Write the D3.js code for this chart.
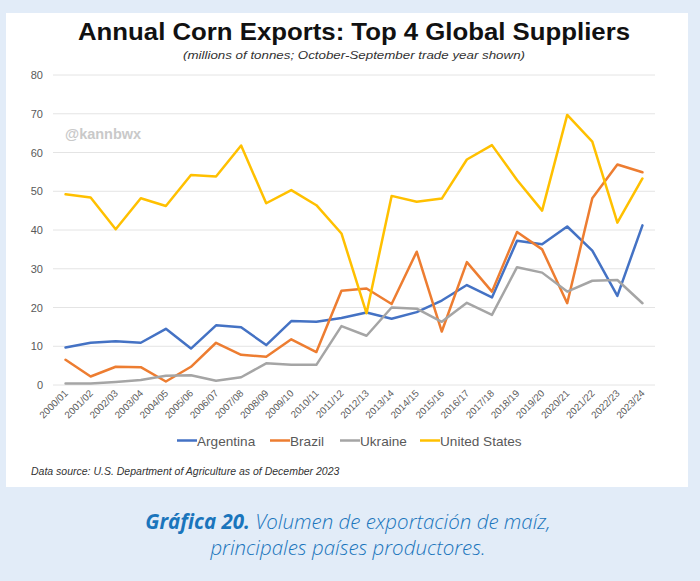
<!DOCTYPE html>
<html>
<head>
<meta charset="utf-8">
<script src="https://cdn.jsdelivr.net/npm/d3@7"></script>
<style>
  html, body { margin: 0; padding: 0; background: #e2ecf8; }
  svg { display: block; }
</style>
</head>
<body>
<svg id="chart" width="700" height="581"></svg>
<script>
const years = ["2000/01","2001/02","2002/03","2003/04","2004/05","2005/06","2006/07","2007/08","2008/09","2009/10","2010/11","2011/12","2012/13","2013/14","2014/15","2015/16","2016/17","2017/18","2018/19","2019/20","2020/21","2021/22","2022/23","2023/24"];
const argentina = [9.7,10.9,11.3,10.9,14.5,9.4,15.4,14.9,10.3,16.5,16.3,17.3,18.7,17.1,18.8,21.8,25.8,22.6,37.2,36.3,40.9,34.7,23.0,41.2];
const brazil    = [6.5,2.2,4.7,4.6,0.9,4.7,10.9,7.8,7.3,11.8,8.5,24.3,24.9,20.9,34.4,13.8,31.7,24.1,39.5,35.0,21.1,48.2,56.9,54.9];
const ukraine   = [0.4,0.4,0.8,1.3,2.4,2.5,1.1,2.0,5.6,5.2,5.2,15.2,12.7,20.0,19.7,16.3,21.2,18.1,30.4,29.0,24.1,26.9,27.1,21.1];
const unitedStates = [49.2,48.4,40.2,48.2,46.2,54.2,53.8,61.8,46.9,50.3,46.4,39.1,18.5,48.8,47.3,48.1,58.2,61.9,52.9,45.0,69.7,62.8,41.9,53.3];
const yTicks = [0,10,20,30,40,50,60,70,80];
const seriesNames = ["Argentina","Brazil","Ukraine","United States"];
const seriesColors = ["#4472c4","#ed7d31","#a5a5a5","#ffc000"];

const series = [argentina, brazil, ukraine, unitedStates].map((v,i)=>({name:seriesNames[i], color:seriesColors[i], values:v}));

const svg = d3.select("#chart");
const font = "'Liberation Sans', Arial, sans-serif";

// white panel
svg.append("rect").attr("x",6).attr("y",13).attr("width",682).attr("height",474).attr("fill","#ffffff");

// title
svg.append("text").attr("x",354).attr("y",39.5).attr("text-anchor","middle")
  .attr("font-family",font).attr("font-weight","bold").attr("font-size",23)
  .attr("textLength",552).attr("lengthAdjust","spacingAndGlyphs")
  .attr("fill","#111").text("Annual Corn Exports: Top 4 Global Suppliers");
svg.append("text").attr("x",354).attr("y",59).attr("text-anchor","middle")
  .attr("font-family",font).attr("font-style","italic").attr("font-size",11)
  .attr("textLength",342).attr("lengthAdjust","spacingAndGlyphs")
  .attr("fill","#333").text("(millions of tonnes; October-September trade year shown)");

const x = d3.scaleBand().domain(years).range([53,655]);
const y = d3.scaleLinear().domain([0,80]).range([385,75]);

// gridlines
svg.append("g").selectAll("line").data(yTicks).join("line")
  .attr("x1",53).attr("x2",655).attr("y1",d=>y(d)).attr("y2",d=>y(d))
  .attr("stroke","#e4e4e4").attr("stroke-width",1);

// y axis
const yAxis = svg.append("g").attr("transform","translate(53,0)")
  .call(d3.axisLeft(y).tickValues(yTicks).tickSize(0).tickPadding(10));
yAxis.select(".domain").remove();
yAxis.selectAll("text").attr("font-family",font).attr("font-size",11).attr("fill","#595959");

// x axis
const xAxis = svg.append("g").attr("transform","translate(0,385)")
  .call(d3.axisBottom(x).tickSize(0).tickPadding(0));
xAxis.select(".domain").remove();
xAxis.selectAll("text")
  .attr("font-family",font).attr("font-size",9.8).attr("fill","#595959")
  .attr("text-anchor","end")
  .attr("dy",0)
  .attr("transform","translate(3,9) rotate(-45)");

// watermark
svg.append("text").attr("x",65).attr("y",139).attr("font-family",font).attr("font-weight","bold")
  .attr("font-size",14.5).attr("fill","#c9c9c9").text("@kannbwx");

// lines
const line = d3.line().x((d,i)=>x(years[i])+x.bandwidth()/2).y(d=>y(d));
svg.append("g").selectAll("path").data(series).join("path")
  .attr("d",d=>line(d.values)).attr("fill","none")
  .attr("stroke",d=>d.color).attr("stroke-width",2.5)
  .attr("stroke-linejoin","round").attr("stroke-linecap","round");

// legend
const legendX = [177,270,340,420];
const lg = svg.append("g").selectAll("g").data(series).join("g")
  .attr("transform",(d,i)=>`translate(${legendX[i]},440.5)`);
lg.append("line").attr("x1",0).attr("x2",20).attr("y1",0).attr("y2",0)
  .attr("stroke",d=>d.color).attr("stroke-width",2.5);
lg.append("text").attr("x",20).attr("y",5).attr("font-family",font).attr("font-size",13.6)
  .attr("fill","#595959").text(d=>d.name);

// source
svg.append("text").attr("x",31).attr("y",475).attr("font-family",font).attr("font-style","italic")
  .attr("font-size",10.5).attr("fill","#333")
  .text("Data source: U.S. Department of Agriculture as of December 2023");

// caption
const capFont = "'Open Sans', Lato, sans-serif";
const cap1 = svg.append("text").attr("x",348).attr("y",529).attr("text-anchor","middle")
  .attr("font-family",capFont).attr("font-style","italic").attr("font-size",20.5).attr("fill","#1a75bc");
cap1.append("tspan").attr("font-weight","bold").text("Gráfica 20.");
cap1.append("tspan").attr("font-weight","300").text(" Volumen de exportación de maíz,");
svg.append("text").attr("x",348).attr("y",555).attr("text-anchor","middle")
  .attr("font-family",capFont).attr("font-style","italic").attr("font-weight","300").attr("font-size",20.5).attr("fill","#1a75bc")
  .text("principales países productores.");
</script>
</body>
</html>
